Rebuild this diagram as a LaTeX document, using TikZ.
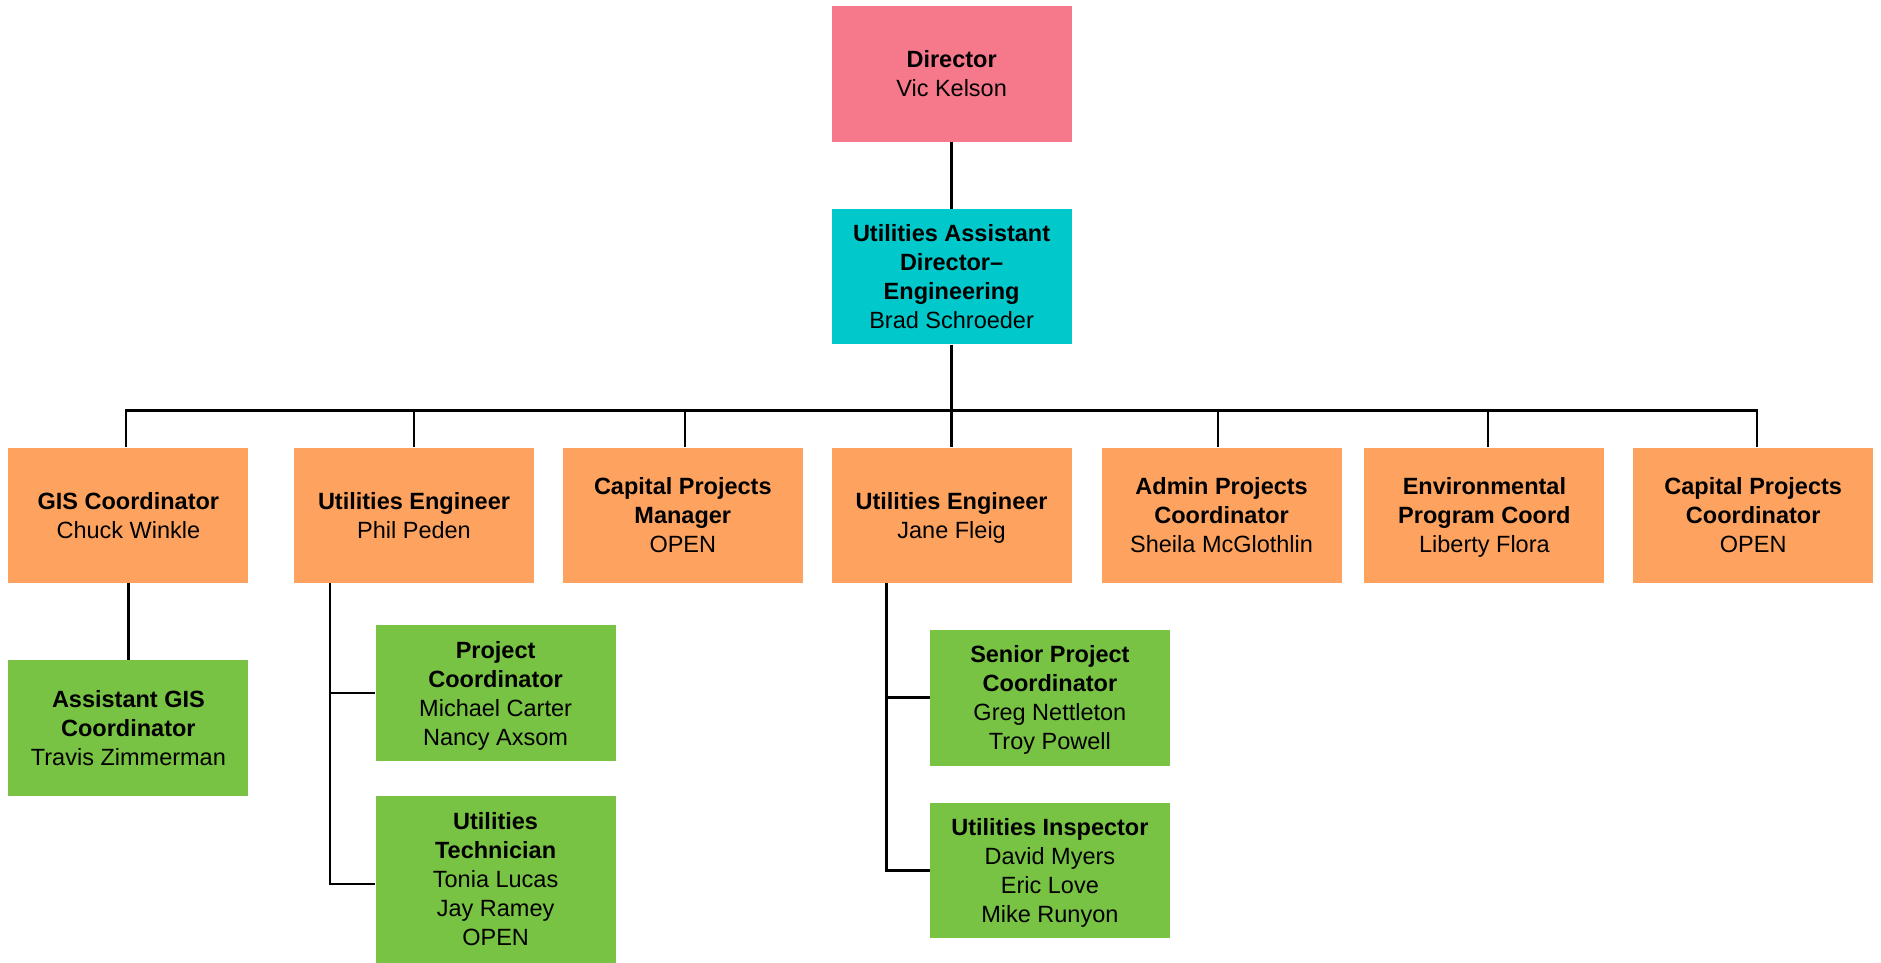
\documentclass[tikz,border=0pt]{standalone}
\usepackage{fontspec}
\setmainfont{Liberation Sans}
\definecolor{dirpink}{RGB}{246,121,139}
\definecolor{asstcyan}{RGB}{0,200,203}
\definecolor{mgrorange}{RGB}{254,163,95}
\definecolor{staffgreen}{RGB}{120,194,68}
\begin{document}
\begin{tikzpicture}[x=1pt,y=-1pt,
  box/.style={rectangle, inner sep=0pt, minimum width=240pt, minimum height=135.6pt,
    align=center, text depth=0pt, font=\fontsize{23.5}{29}\selectfont, text=black},
  topbox/.style={box, fill=dirpink},
  asstbox/.style={box, fill=asstcyan},
  mgrbox/.style={box, fill=mgrorange},
  staffbox/.style={box, fill=staffgreen},
  link/.style={draw=black, line width=2.5pt}]
\useasboundingbox (0,0) rectangle (1881,963);

% top of the chart
\node[topbox] (dir) at (951.6,73.8) {\textbf{Director}\\Vic Kelson};
\node[asstbox] (asst) at (951.6,276.6)
  {\textbf{Utilities Assistant}\\\textbf{Director–}\\\textbf{Engineering}\\Brad Schroeder};

% managers row
\node[mgrbox] (gis) at (128.4,515.4) {\textbf{GIS Coordinator}\\Chuck Winkle};
\node[mgrbox] (phil) at (414,515.4) {\textbf{Utilities Engineer}\\Phil Peden};
\node[mgrbox] (capmgr) at (682.8,515.4) {\textbf{Capital Projects}\\\textbf{Manager}\\OPEN};
\node[mgrbox] (jane) at (951.6,515.4) {\textbf{Utilities Engineer}\\Jane Fleig};
\node[mgrbox] (admin) at (1221.6,515.4) {\textbf{Admin Projects}\\\textbf{Coordinator}\\Sheila McGlothlin};
\node[mgrbox] (env) at (1484.4,515.4) {\textbf{Environmental}\\\textbf{Program Coord}\\Liberty Flora};
\node[mgrbox] (capcoord) at (1753.2,515.4) {\textbf{Capital Projects}\\\textbf{Coordinator}\\OPEN};

% staff
\node[staffbox] (agis) at (128.4,727.8) {\textbf{Assistant GIS}\\\textbf{Coordinator}\\Travis Zimmerman};
\node[staffbox] (pc) at (495.6,693) {\textbf{Project}\\\textbf{Coordinator}\\Michael Carter\\Nancy Axsom};
\node[staffbox, minimum height=167pt] (ut) at (495.6,879)
  {\textbf{Utilities}\\\textbf{Technician}\\Tonia Lucas\\Jay Ramey\\OPEN};
\node[staffbox] (spc) at (1049.9,697.7) {\textbf{Senior Project}\\\textbf{Coordinator}\\Greg Nettleton\\Troy Powell};
\node[staffbox] (ui) at (1049.9,870.5) {\textbf{Utilities Inspector}\\David Myers\\Eric Love\\Mike Runyon};

% connectors: director chain and the bus to the managers row
\coordinate (bus) at (951.6,410.4);
\draw[link] (dir) -- (asst);
\draw[link] (asst) -- (bus);
\foreach \m/\dx in {gis/-2.4,phil/0,capmgr/2.2,jane/0,admin/-3.6,env/3.6,capcoord/3.6}
  \draw[link] (bus) -| ([xshift=\dx pt]\m.north);

\draw[link] (gis) -- (agis);

% side trunks down to the staff boxes
\coordinate (philtrunk) at ([xshift=36pt]phil.south west);
\draw[link] (philtrunk) |- ([yshift=-5pt]ut.west);
\draw[link] (philtrunk |- pc.west) -- (pc.west);

\coordinate (janetrunk) at ([xshift=55pt]jane.south west);
\draw[link] (janetrunk) |- (ui.west);
\draw[link] (janetrunk |- spc.west) -- (spc.west);
\end{tikzpicture}
\end{document}
